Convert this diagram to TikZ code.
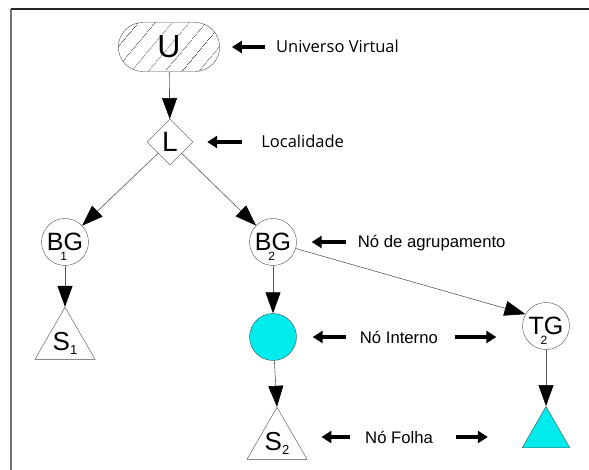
\documentclass[tikz,border=0pt]{standalone}
\usepackage{fontspec}
\setmainfont{Liberation Sans}
\newfontfamily\notefont{Open Sans}
\usetikzlibrary{positioning,shapes.geometric,shapes.misc,arrows.meta,patterns.meta}
\definecolor{aqua}{RGB}{0,235,235}
\newcommand{\bgsub}[3]{#1\makebox[0pt]{\smash{\raisebox{-10pt}{\fontsize{12}{12}\selectfont #3}}}#2}
\newcommand{\ssub}[2]{#1\smash{\raisebox{-4pt}{\fontsize{13}{13}\selectfont #2}}}
\tikzstyle{vnode} = [circle, draw=black!70, minimum size=47pt, inner sep=0pt, font=\fontsize{25}{25}\selectfont]
\tikzstyle{leaf} = [regular polygon, regular polygon sides=3, draw=black!70, minimum size=60pt, inner sep=0pt, font=\fontsize{26}{26}\selectfont]
\tikzstyle{line} = [draw=black!65, line width=0.6pt, -{Triangle[length=21pt,width=15pt,color=black]}]
\tikzstyle{pointer} = [draw, line width=3.8pt, -{Triangle[length=10pt,width=12pt]}]
\tikzstyle{note} = [inner sep=0pt, text height=12pt, text depth=0pt, font=\fontsize{16.7}{17}\selectfont]

\begin{document}
\begin{tikzpicture}[x=1pt,y=-1pt]
	\useasboundingbox (0,0) rectangle (589,470);
	\draw[black!55, line width=1.6pt] (11,470) -- (11,9);
	\draw[black!85, line width=1.6pt] (11,9) -- (589,9);

	\node[rounded rectangle, draw=black!70, pattern={Lines[angle=50,distance=13pt,line width=0.5pt]}, pattern color=black!70, minimum width=108pt, minimum height=49pt, font=\fontsize{32}{32}\selectfont] (U) at (169,47) {U};
	\node[diamond, draw=black!70, aspect=1, minimum width=46pt, minimum height=46pt, inner sep=0pt, font=\fontsize{28}{28}\selectfont] (L) at (170,142) {L};
	\node[vnode] (bg1) at (65,242) {\bgsub{B}{G}{1}};
	\node[vnode] (bg2) at (273,242) {\bgsub{B}{G}{2}};
	\node[vnode, fill=aqua] (ni) at (273,337) {};
	\node[vnode] (tg2) at (546,326) {\bgsub{T}{G}{2}};
	\node[leaf] (s1) at (65,342) {\ssub{S}{1}};
	\node[leaf] (s2) at (277,442) {\ssub{S}{2}};
	\node[leaf, fill=aqua, minimum size=55pt] (fl) at (546,434) {};

	\node[note, text height=11.8pt, font=\notefont\fontsize{16.5}{17}\selectfont, right=56pt of U] (uv) {Universo Virtual};
	\node[note, text height=11.8pt, font=\notefont\fontsize{16.5}{17}\selectfont, right=68pt of L] (loc) {Localidade};
	\node[note, right=61pt of bg2] (agr) {Nó de agrupamento};
	\node[note, right=63pt of ni] (int) {Nó Interno};
	\node[note, anchor=west] (fol) at (365,437) {Nó Folha};

	\path[line] (U) -- (L);
	\path[line] (L) -- (bg1);
	\path[line] (L) -- (bg2);
	\path[line] (bg1) -- (s1.corner 1);
	\path[line] (bg2) -- (ni);
	\path[line] (ni) -- (s2.corner 1);
	\path[line] (bg2) -- (tg2.150);
	\path[line] (tg2) -- (fl.corner 1);

	\path[pointer, shorten <=11pt, shorten >=12pt] (uv) -- (U);
	\path[pointer, shorten <=19pt, shorten >=14pt] (loc) -- (L);
	\path[pointer, shorten <=12pt, shorten >=15pt] (agr) -- (bg2);
	\path[pointer, shorten <=14pt, shorten >=16pt] (int) -- (ni);
	\path[pointer, shorten <=17pt, shorten >=26pt] (int.east) -- (int.east -| tg2.west);
	\path[pointer, shorten <=15pt, shorten >=14pt] (fol.west) -- (fol.west -| s2.corner 3);
	\path[pointer, shorten <=23pt, shorten >=34pt] (fol.east) -- (fol.east -| fl.corner 2);
\end{tikzpicture}
\end{document}
